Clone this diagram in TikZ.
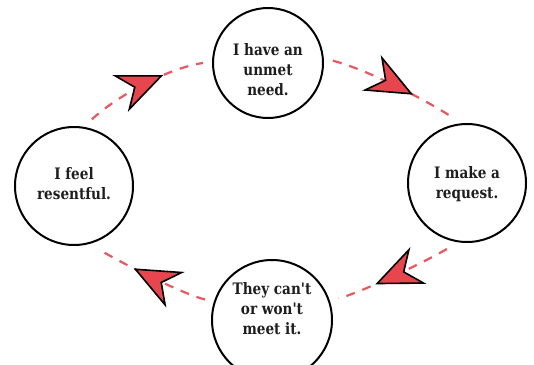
\documentclass[tikz,border=0pt]{standalone}
\usepackage{fontspec}
\newfontfamily\slab{DejaVu Serif}[FakeStretch=0.86]
\usetikzlibrary{arrows.meta,decorations.markings}
\definecolor{dashred}{RGB}{232,88,96}
\definecolor{arrowred}{RGB}{232,70,78}
\definecolor{ink}{RGB}{30,30,30}
\tikzset{
  circ/.style={circle, draw=black, line width=2pt, outer sep=10pt, inner sep=0pt},
  lbl/.style={align=center, text=ink, inner sep=0pt, font=\slab\bfseries\fontsize{15.8}{20}\selectfont},
  cyc/.style={draw=dashred, line width=2.2pt, dash pattern=on 9pt off 8pt,
    postaction={decorate},
    decoration={markings, mark=at position 0.67 with {\pgfsetdash{}{0pt}\arrow{Stealth[length=47pt,width=40pt,inset=15pt,line width=1.6pt,color=black,fill=arrowred]}}}}
}
\begin{document}
\begin{tikzpicture}[x=1pt,y=-1pt]
\useasboundingbox (0,0) rectangle (534,364);
\clip (0,0) rectangle (534,364);
\fill[white] (0,0) rectangle (534,364);
\node[circ, minimum size=110pt] (top) at (268,63) {};
\node[circ, minimum size=118pt] (left) at (74,186) {};
\node[circ, minimum size=118pt] (right) at (467,183) {};
\node[circ, minimum size=120pt] (bottom) at (272,320) {};
\node[lbl] (toptext) at (268,70) {I have an\\unmet\\need.};
\node[lbl] (lefttext) at (74,184) {I feel\\resentful.};
\node[lbl] (righttext) at (467,184) {I make a\\request.};
\node[lbl] (bottomtext) at (272,309) {They can't\\or won't\\meet it.};
\draw[cyc] (left.75) .. controls (117,96) and (168,68) .. (top.180);
\draw[cyc] (top.2) .. controls (372,71) and (432,104) .. (right.104);
\draw[cyc] (right.253) .. controls (425,262) and (360,293) .. (bottom.18);
\draw[cyc] (bottom.163) .. controls (180,293) and (120,262) .. (left.-68);
\end{tikzpicture}
\end{document}
